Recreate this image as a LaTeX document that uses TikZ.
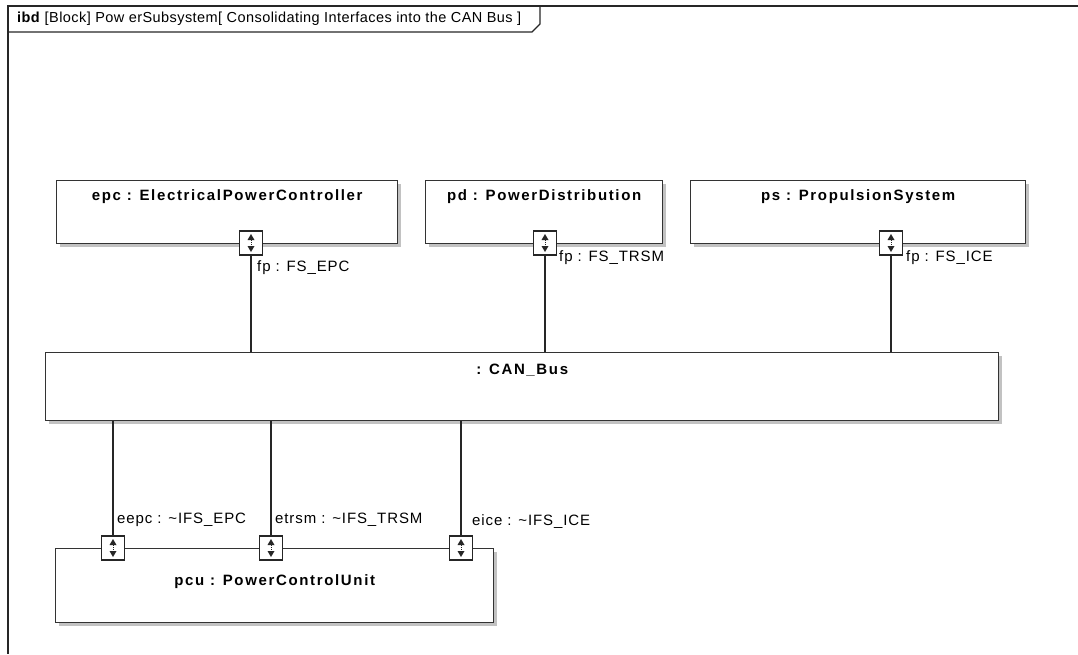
\documentclass[tikz,border=0pt]{standalone}
\usepackage{fontspec}
\setmainfont{Liberation Sans}
\newfontfamily\ttlfont[LetterSpace=11]{Liberation Sans}
\newfontfamily\lblfont[LetterSpace=6]{Liberation Sans}
\newfontfamily\hdrfont[LetterSpace=3]{Liberation Sans}
\usetikzlibrary{arrows.meta,shadows}

\begin{document}
\begin{tikzpicture}[x=1pt, y=-1pt,
  blk/.style={draw=black!80, fill=white, line width=1.4pt, inner sep=0pt,
    drop shadow={shadow xshift=3pt, shadow yshift=-3pt, fill=black!40, opacity=0.6}},
  ttl/.style={font=\ttlfont\fontsize{15}{18}\selectfont\bfseries, inner sep=0pt},
  port/.style={draw=black!85, fill=white, line width=1.3pt, minimum width=23pt, minimum height=24pt, inner sep=0pt},
  lbl/.style={font=\lblfont\fontsize{15}{18}\selectfont, inner sep=0pt, anchor=west},
  conn/.style={draw=black!85, line width=1.2pt},
  head/.style={fill=black!85}]
\useasboundingbox (0,0) rectangle (1078,654);

% frame and heading
\draw[black!85, line width=1.3pt] (1078,6) -- (8,6) -- (8,654);
\draw[black!85, line width=1.3pt] (8,32) -- (532,32) -- (540,24) -- (540,6);
\node[anchor=west, inner sep=0pt, font=\hdrfont\fontsize{14.5}{17}\selectfont] (hdr) at (17,19)
  {\textbf{ibd} [Block] Pow erSubsystem[ Consolidating Interfaces into the CAN Bus ]};

% parts
\node[blk, anchor=north west, minimum width=341pt, minimum height=63pt] (epc) at (56,180) {};
\node[blk, anchor=north west, minimum width=237pt, minimum height=63pt] (pd) at (425,180) {};
\node[blk, anchor=north west, minimum width=335pt, minimum height=63pt] (ps) at (690,180) {};
\node[blk, anchor=north west, minimum width=953pt, minimum height=68pt] (can) at (45,352) {};
\node[blk, anchor=north west, minimum width=438pt, minimum height=74pt] (pcu) at (55,548) {};

\node[ttl] (epct) at ([yshift=-17pt]epc.north) {epc : ElectricalPowerController};
\node[ttl] (pdt) at ([yshift=-17pt]pd.north) {pd : PowerDistribution};
\node[ttl] (pst) at ([yshift=-17pt]ps.north) {ps : PropulsionSystem};
\node[ttl] (cant) at ([yshift=-18pt]can.north) {: CAN\_Bus};
\node[ttl] (pcut) at ([yshift=-34pt]pcu.north) {pcu : PowerControlUnit};

% ports
\node[port] (pe) at (251,243) {};
\node[port] (pp) at (545,243) {};
\node[port] (px) at (891,243) {};
\node[port] (qe) at (113,548) {};
\node[port] (qt) at (271,548) {};
\node[port] (qi) at (461,548) {};
\foreach \p in {pe,pp,px,qe,qt,qi} {
  \fill[head] ([shift={(0,-9)}]\p.center) -- ++(-3.5,6) -- ++(7,0) -- cycle;
  \fill[head] ([shift={(0,9)}]\p.center) -- ++(-3.5,-6) -- ++(7,0) -- cycle;
  \draw[black!85, line width=1pt, densely dotted] ([shift={(0,-3)}]\p.center) -- ([shift={(0,3)}]\p.center);
}

% connectors
\draw[conn] (pe) -- (pe |- can.north);
\draw[conn] (pp) -- (pp |- can.north);
\draw[conn] (px) -- (px |- can.north);
\draw[conn] (qe |- can.south) -- (qe);
\draw[conn] (qt |- can.south) -- (qt);
\draw[conn] (qi |- can.south) -- (qi);

% port labels
\node[lbl] (le) at ([shift={(6,25)}]pe.center) {fp : FS\_EPC};
\node[lbl] (lp) at ([shift={(14,15)}]pp.center) {fp : FS\_TRSM};
\node[lbl] (lx) at ([shift={(15,15)}]px.center) {fp : FS\_ICE};
\node[lbl] (me) at ([shift={(4,-28)}]qe.center) {eepc : \textasciitilde IFS\_EPC};
\node[lbl] (mt) at ([shift={(4,-28)}]qt.center) {etrsm : \textasciitilde IFS\_TRSM};
\node[lbl] (mi) at ([shift={(11,-26)}]qi.center) {eice : \textasciitilde IFS\_ICE};
\end{tikzpicture}
\end{document}
